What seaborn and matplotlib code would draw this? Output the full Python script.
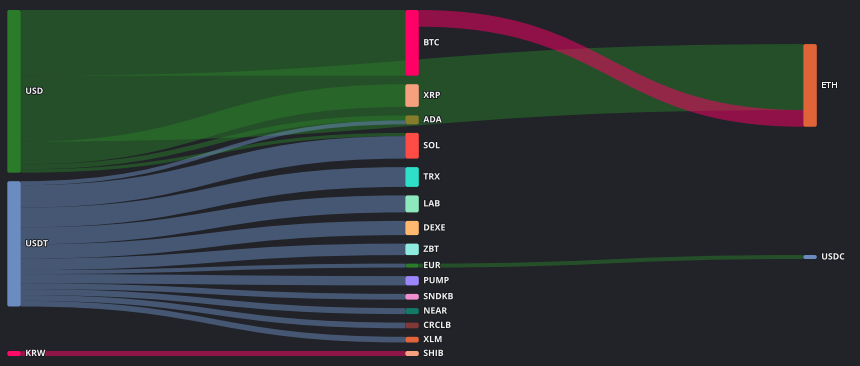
import matplotlib
matplotlib.use("Agg")
import matplotlib.pyplot as plt
import matplotlib.patheffects as pe
from matplotlib.path import Path
from matplotlib.patches import PathPatch, FancyBboxPatch
import seaborn as sns

# nodes, in column order (top to bottom)
nodes = ["USD", "USDT", "KRW",
         "BTC", "XRP", "ADA", "SOL", "TRX", "LAB", "DEXE", "ZBT", "EUR",
         "PUMP", "SNDKB", "NEAR", "CRCLB", "XLM", "SHIB",
         "ETH", "USDC"]
node_colors = ["#2a7b2a", "#6b8cc0", "#ff0a66",
               "#ff0066", "#f7a07f", "#857d2c", "#ff4d45", "#2ee0c8", "#8ee8bd",
               "#ffb870", "#90ebdf", "#2a7b2a", "#9d85fa", "#ef8fd0", "#127a66",
               "#803838", "#e2643a", "#f7a07f",
               "#e06438", "#6b8cc0"]

# flows
link_source = ["USD", "USD", "USD", "USD", "USD",
               "USDT", "USDT", "USDT", "USDT", "USDT", "USDT", "USDT",
               "USDT", "USDT", "USDT", "USDT", "USDT",
               "KRW", "BTC", "EUR"]
link_target = ["BTC", "ETH", "XRP", "ADA", "SOL",
               "ADA", "SOL", "TRX", "LAB", "DEXE", "ZBT", "EUR",
               "PUMP", "SNDKB", "NEAR", "CRCLB", "XLM",
               "SHIB", "ETH", "USDC"]
link_value = [65.7, 66.0, 22.7, 5.0, 3.3,
              4.0, 22.4, 19.8, 17.0, 14.2, 11.5, 4.0,
              9.3, 5.7, 6.0, 5.7, 5.7,
              5.0, 16.7, 4.0]

BG = "#212328"
W, H = 860, 366
left, top, right, bottom = 7.3, 10, 43.2, 10
node_w = 13.5
gap = 8.5
iterations = 94

sns.set_theme(style="dark", rc={"axes.facecolor": BG, "figure.facecolor": BG})
plt.rcParams["font.family"] = ["Open Sans", "DejaVu Sans"]

# ---- sankey layout (echarts-like relaxation) ----
n = len(nodes)
idx = {name: i for i, name in enumerate(nodes)}
src = [idx[s] for s in link_source]
tgt = [idx[t] for t in link_target]
out_edges = [[] for _ in range(n)]
in_edges = [[] for _ in range(n)]
for e, (s, t) in enumerate(zip(src, tgt)):
    out_edges[s].append(e)
    in_edges[t].append(e)
value = [max(sum(link_value[e] for e in out_edges[i]),
             sum(link_value[e] for e in in_edges[i])) for i in range(n)]

depth = [0] * n
for _ in range(n):
    for s, t in zip(src, tgt):
        depth[t] = max(depth[t], depth[s] + 1)
max_depth = max(depth)
columns = [[i for i in range(n) if depth[i] == d] for d in range(max_depth + 1)]

width = W - left - right
height = H - top - bottom
kx = (width - node_w) / max_depth
xs = [left + depth[i] * kx for i in range(n)]

ky = min((height - (len(c) - 1) * gap) / sum(value[i] for i in c) for c in columns)
dy = [v * ky for v in value]
edge_dy = [v * ky for v in link_value]
ys = [0.0] * n
for c in columns:
    for k, i in enumerate(c):
        ys[i] = float(k)


def center(i):
    return ys[i] + dy[i] / 2


def resolve():
    for c in columns:
        y0 = 0
        for i in c:
            if y0 - ys[i] > 0:
                ys[i] = y0
            y0 = ys[i] + dy[i] + gap
        over = y0 - gap - height
        if over > 0:
            ys[c[-1]] -= over
            y0 = ys[c[-1]]
            for i in reversed(c[:-1]):
                d = ys[i] + dy[i] + gap - y0
                if d > 0:
                    ys[i] -= d
                y0 = ys[i]


resolve()
alpha = 1.0
for _ in range(iterations):
    alpha *= 0.99
    for c in reversed(columns):
        for i in c:
            if out_edges[i]:
                w = sum(link_value[e] for e in out_edges[i])
                yc = sum(center(tgt[e]) * link_value[e] for e in out_edges[i]) / w
                ys[i] += (yc - center(i)) * alpha
    resolve()
    for c in columns:
        for i in c:
            if in_edges[i]:
                w = sum(link_value[e] for e in in_edges[i])
                yc = sum(center(src[e]) * link_value[e] for e in in_edges[i]) / w
                ys[i] += (yc - center(i)) * alpha
    resolve()

sy, ty = {}, {}
for i in range(n):
    acc = 0
    for e in sorted(out_edges[i], key=lambda e: ys[tgt[e]]):
        sy[e] = acc
        acc += edge_dy[e]
    acc = 0
    for e in sorted(in_edges[i], key=lambda e: ys[src[e]]):
        ty[e] = acc
        acc += edge_dy[e]

# ---- draw ----
fig = plt.figure(figsize=(W / 100, H / 100), dpi=100, facecolor=BG)
ax = fig.add_axes([0, 0, 1, 1])
ax.set_facecolor(BG)
ax.set_xlim(0, W)
ax.set_ylim(H, 0)
ax.axis("off")

for e in range(len(link_value)):
    s, t = src[e], tgt[e]
    x1 = xs[s] + node_w
    x2 = xs[t]
    y1 = top + ys[s] + sy[e]
    y2 = top + ys[t] + ty[e]
    d = edge_dy[e]
    cx = (x1 + x2) / 2
    verts = [(x1, y1), (cx, y1), (cx, y2), (x2, y2),
             (x2, y2 + d), (cx, y2 + d), (cx, y1 + d), (x1, y1 + d), (x1, y1)]
    codes = [Path.MOVETO, Path.CURVE4, Path.CURVE4, Path.CURVE4,
             Path.LINETO, Path.CURVE4, Path.CURVE4, Path.CURVE4, Path.CLOSEPOLY]
    ax.add_patch(PathPatch(Path(verts, codes), facecolor=node_colors[s],
                           edgecolor="none", alpha=0.5, zorder=1))

for i, name in enumerate(nodes):
    r = min(2.0, dy[i] / 2)
    ax.add_patch(FancyBboxPatch((xs[i], top + ys[i]), node_w, dy[i],
                                boxstyle=f"round,pad=0,rounding_size={r}",
                                facecolor=node_colors[i], edgecolor="none", zorder=2))
    ax.text(xs[i] + node_w + 4.5, top + center(i), name, ha="left", va="center",
            color="#f2f2f2", fontsize=6.3, fontweight="bold", zorder=3,
            path_effects=[pe.withStroke(linewidth=1.2, foreground="#16181c")])

fig.savefig("out.png", dpi=100, facecolor=BG)
